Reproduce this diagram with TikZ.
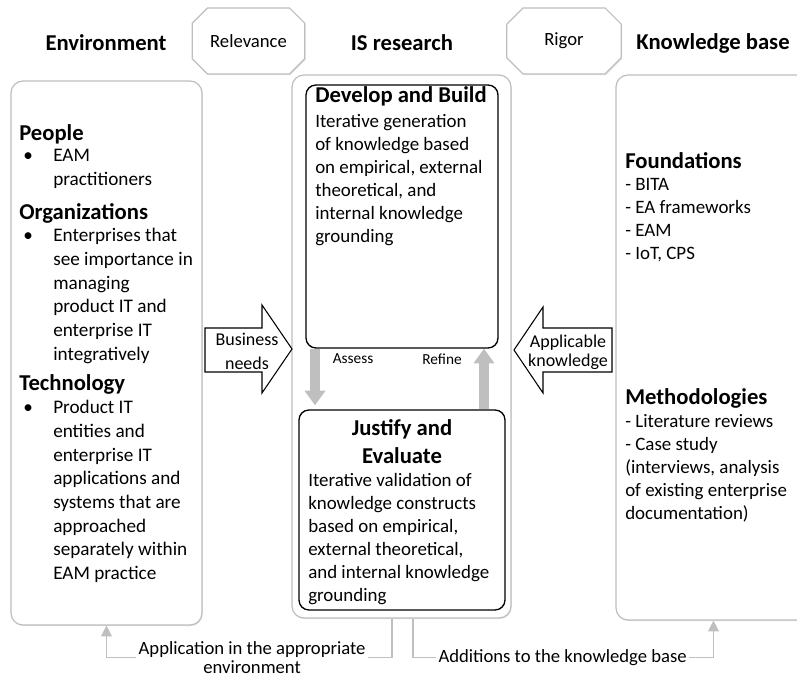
\documentclass[tikz,border=0pt]{standalone}
\usepackage{fontspec}
\setmainfont{Carlito}
\usetikzlibrary{shapes.misc,arrows.meta,shadows}
\definecolor{boxgray}{RGB}{188,190,194}
\definecolor{arrgray}{RGB}{191,191,191}
\newcommand{\bul}{\makebox[25.5pt][l]{\hspace{3pt}\textbullet}}
\newcommand{\ind}{\hspace*{25.5pt}}
\begin{document}
\begin{tikzpicture}[x=0.75pt,y=-0.75pt,
    hdr/.style={font=\fontsize{17}{20}\selectfont\bfseries, inner sep=0pt},
    sub/.style={font=\fontsize{17}{21}\selectfont\bfseries, inner sep=0pt, anchor=north west, align=left},
    body/.style={font=\fontsize{14.2}{17.3}\selectfont, inner sep=0pt, anchor=north west, align=left},
    envbody/.style={body, font=\fontsize{14.4}{17.8}\selectfont},
    panel/.style={draw=boxgray, line width=0.9pt, rounded corners=9pt, fill=white,
        drop shadow={shadow xshift=0.6pt, shadow yshift=-0.9pt, opacity=0.2}},
    inbox/.style={draw=black, line width=1pt, rounded corners=7.5pt, fill=white},
    cham/.style={chamfered rectangle, chamfered rectangle xsep=9pt, draw=boxgray, line width=0.9pt,
        fill=white, font=\fontsize{14}{17}\selectfont, minimum height=49.5pt, inner xsep=4pt,
        text width=60pt, align=center,
        drop shadow={shadow xshift=0.6pt, shadow yshift=-0.9pt, opacity=0.2}},
    blockarr/.style={draw=black, line width=0.8pt, fill=white},
    arrtxt/.style={font=\fontsize{13.5}{18}\selectfont, align=center, inner sep=0pt},
    small/.style={font=\fontsize{11.5}{13}\selectfont, inner sep=0pt},
    gblock/.style={draw=arrgray, line width=7.5pt, -{Triangle[length=11pt,width=15pt]}},
    gline/.style={draw=arrgray, line width=1.1pt, -{Triangle[length=8pt,width=8pt]}},
    lbl/.style={font=\fontsize{14}{14.5}\selectfont, align=center, fill=white, inner xsep=2pt, inner ysep=0pt}]

\useasboundingbox (0,0) rectangle (797,680);
\clip (0,0) rectangle (797,680);

% column headers
\node[hdr] (envh) at (106,43) {Environment};
\node[hdr] (ish) at (402,43) {IS research};
\node[hdr] (kbh) at (713,43) {Knowledge base};
\node[cham] (rel) at (248.5,41) {Relevance};
\node[cham] (rig) at (564,41) {Rigor};

% the three panels
\node[panel, minimum width=143.25pt, minimum height=408pt] (env) at (106.5,353) {};
\node[panel, minimum width=164.25pt, minimum height=407.25pt] (is) at (401.5,346.5) {};
\node[panel, minimum width=146.25pt, minimum height=408.75pt] (kb) at (713.5,347.5) {};

% environment
\node[sub] (people) at (19,124.5) {People};
\node[envbody] (peopletxt) at (19,149) {\bul EAM\\ \ind practitioners};
\node[sub] (orgs) at (19,203.5) {Organizations};
\node[envbody] (orgstxt) at (19,228) {\bul Enterprises that\\ \ind see importance in\\ \ind managing\\
    \ind product IT and\\ \ind enterprise IT\\ \ind integratively};
\node[sub] (tech) at (19,374.5) {Technology};
\node[envbody] (techtxt) at (19,400) {\bul Product IT\\ \ind entities and\\ \ind enterprise IT\\
    \ind applications and\\ \ind systems that are\\ \ind approached\\ \ind separately within\\ \ind EAM practice};

% IS research
\node[inbox, minimum width=144pt, minimum height=197.25pt] (dev) at (402,216.5) {};
\node[inbox, minimum width=154.5pt, minimum height=150pt] (just) at (402,510) {};
\node[sub] (devh) at (315,86.5) {Develop and Build};
\node[body] (devtxt) at (315,114) {Iterative generation\\ of knowledge based\\ on empirical, external\\
    theoretical, and\\ internal knowledge\\ grounding};
\node[sub, anchor=north, align=center, font=\fontsize{17}{21}\selectfont\bfseries] (justh) at (402,419.5) {Justify and\\ Evaluate};
\node[body] (justtxt) at (308,473) {Iterative validation of\\ knowledge constructs\\ based on empirical,\\
    external theoretical,\\ and internal knowledge\\ grounding};
\draw[gblock] ([xshift=-65.25pt]dev.south) -- ([xshift=-65.25pt,yshift=3pt]just.north);
\draw[gblock] ([xshift=61.5pt]just.north) -- ([xshift=61.5pt]dev.south);
\node[small] (assess) at (353,359) {Assess};
\node[small] (refine) at (442,359) {Refine};

% knowledge base
\node[sub] (found) at (625,152.5) {Foundations};
\node[body] (foundtxt) at (625,178) {- BITA\\ - EA frameworks\\ - EAM\\ - IoT, CPS};
\node[sub] (meth) at (625,388.5) {Methodologies};
\node[body] (methtxt) at (625,414) {- Literature reviews\\ - Case study\\ (interviews, analysis\\
    of existing enterprise\\ documentation)};

% block arrows
\draw[blockarr] (205,328) -- (262,328) -- (262,305) -- (292,349) -- (262,393) -- (262,372) -- (205,372) -- cycle;
\node[arrtxt] (busi) at (247,351) {Business\\ needs};
\draw[blockarr] (612,328) -- (543,328) -- (543,307) -- (514,350) -- (543,393) -- (543,372) -- (612,372) -- cycle;
\node[arrtxt, font=\fontsize{13.5}{14.5}\selectfont] (appk) at (568,352) {Applicable\\ knowledge};

% feedback connectors
\draw[gline] ([xshift=-7.1pt]is.south) -- ++(0,39) -| node[pos=0.245, lbl] (apptxt)
    {Application in the appropriate\\ environment} (env.south);
\draw[gline] ([xshift=8.6pt]is.south) -- ++(0,39) -| node[pos=0.249, lbl] (addtxt)
    {Additions to the knowledge base} (kb.south);
\end{tikzpicture}
\end{document}
